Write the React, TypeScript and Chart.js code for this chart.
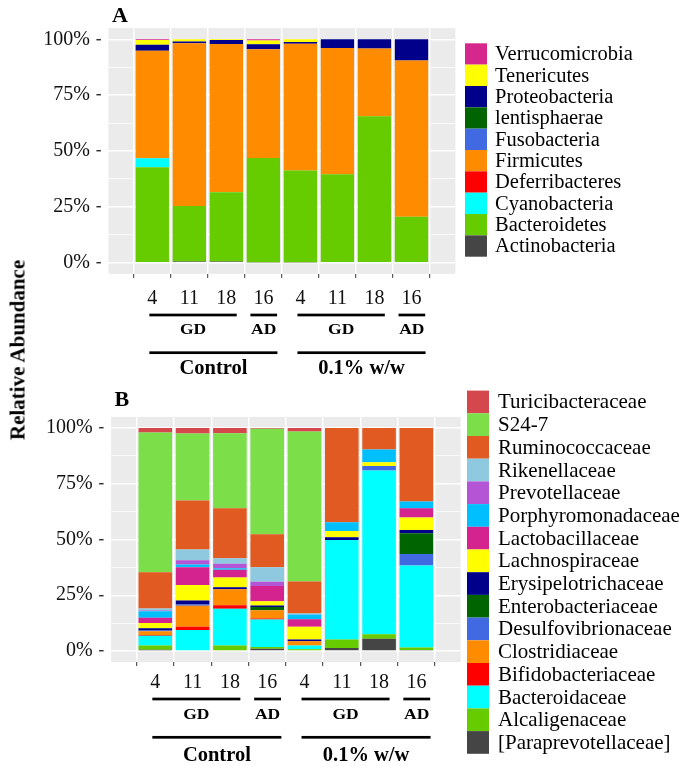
import React, { useEffect, useRef } from 'react';
import { Chart, registerables } from 'chart.js';

Chart.register(...registerables);

const SERIF = "'Liberation Serif', 'Times New Roman', serif";

// ---------- shared categories ----------
const timepoints = ['4', '11', '18', '16', '4', '11', '18', '16'];
const subgroups = [
  { label: 'GD', from: 0, to: 2 },
  { label: 'AD', from: 3, to: 3 },
  { label: 'GD', from: 4, to: 6 },
  { label: 'AD', from: 7, to: 7 },
];
const treatments = [
  { label: 'Control', from: 0, to: 3 },
  { label: '0.1% w/w', from: 4, to: 7 },
];
const yTickValues = [0, 12.5, 25, 37.5, 50, 62.5, 75, 87.5, 100];
const yAxisTitle = 'Relative Abundance';

// ---------- panel A: phyla (stack order bottom -> top) ----------
const phylaNames = ['Actinobacteria', 'Bacteroidetes', 'Cyanobacteria', 'Deferribacteres', 'Firmicutes', 'Fusobacteria', 'lentisphaerae', 'Proteobacteria', 'Tenericutes', 'Verrucomicrobia'];
const phylaColors = ['#454545', '#66CC00', '#00FFFF', '#FF0000', '#FF8C00', '#4169E1', '#006400', '#00008B', '#FFFF00', '#D6278C'];
const actinobacteria = [0.3, 0.5, 0.5, 0.2, 0.2, 0, 0, 0];
const bacteroidetes = [42.4, 24.9, 31.0, 46.7, 41.1, 39.6, 65.5, 20.6];
const cyanobacteria = [4.0, 0, 0.2, 0, 0, 0, 0, 0];
const deferribacteres = [0, 0, 0, 0, 0, 0, 0, 0];
const firmicutes = [48.2, 72.8, 66.2, 48.6, 56.7, 56.5, 30.4, 69.9];
const fusobacteria = [0, 0, 0, 0, 0, 0, 0, 0];
const lentisphaerae = [0, 0, 0, 0, 0, 0, 0, 0];
const proteobacteria = [2.6, 0.8, 1.8, 2.3, 0.8, 3.9, 4.1, 9.5];
const tenericutes = [2.2, 1.0, 0.3, 1.7, 1.2, 0, 0, 0];
const verrucomicrobia = [0.3, 0, 0, 0.5, 0, 0, 0, 0];
const phylaSeries = [actinobacteria, bacteroidetes, cyanobacteria, deferribacteres, firmicutes, fusobacteria, lentisphaerae, proteobacteria, tenericutes, verrucomicrobia];

// ---------- panel B: families (stack order bottom -> top) ----------
const familyNames = ['[Paraprevotellaceae]', 'Alcaligenaceae', 'Bacteroidaceae', 'Bifidobacteriaceae', 'Clostridiaceae', 'Desulfovibrionaceae', 'Enterobacteriaceae', 'Erysipelotrichaceae', 'Lachnospiraceae', 'Lactobacillaceae', 'Porphyromonadaceae', 'Prevotellaceae', 'Rikenellaceae', 'Ruminococcaceae', 'S24-7', 'Turicibacteraceae'];
const familyColors = ['#454545', '#66CC00', '#00FFFF', '#FF0000', '#FF8C00', '#4169E1', '#006400', '#00008B', '#FFFF00', '#D4228F', '#00BFFF', '#B455D6', '#8EC9E0', '#E05A22', '#7CDF4A', '#D4474D'];
const paraprevotellaceae = [0.5, 0, 0, 1.0, 0, 1.3, 5.5, 0.4];
const alcaligenaceae = [1.9, 0.3, 2.4, 0.8, 0.8, 3.8, 2.0, 1.1];
const bacteroidaceae = [4.4, 9.1, 16.5, 12.3, 1.6, 44.7, 73.4, 36.8];
const bifidobacteriaceae = [0.4, 1.5, 1.6, 0.5, 0, 0, 0, 0];
const clostridiaceae = [1.6, 9.4, 7.2, 3.7, 1.9, 0, 0, 0];
const desulfovibrionaceae = [0.4, 0.5, 0, 0, 0, 0, 2.1, 5.2];
const enterobacteriaceae = [0, 0, 0, 1.4, 0, 0, 0, 9.3];
const erysipelotrichaceae = [1.0, 1.8, 0.9, 0.7, 0.8, 1.2, 0, 1.5];
const lachnospiraceae = [2.3, 7.0, 4.3, 1.9, 5.8, 2.8, 1.6, 5.6];
const lactobacillaceae = [2.4, 7.9, 3.5, 6.8, 3.3, 0, 0, 4.1];
const porphyromonadaceae = [2.9, 1.3, 0.7, 0, 2.2, 3.9, 5.8, 3.0];
const prevotellaceae = [0.3, 1.9, 2.0, 1.9, 0, 0, 0, 0];
const rikenellaceae = [1.0, 4.8, 2.5, 6.6, 0.4, 0, 0, 0];
const ruminococcaceae = [16.2, 22.0, 22.4, 14.7, 14.4, 42.3, 9.6, 33.0];
const s247 = [62.7, 30.0, 33.7, 47.4, 67.2, 0, 0, 0];
const turicibacteraceae = [2.0, 2.5, 2.3, 0.3, 1.6, 0, 0, 0];
const familySeries = [paraprevotellaceae, alcaligenaceae, bacteroidaceae, bifidobacteriaceae, clostridiaceae, desulfovibrionaceae, enterobacteriaceae, erysipelotrichaceae, lachnospiraceae, lactobacillaceae, porphyromonadaceae, prevotellaceae, rikenellaceae, ruminococcaceae, s247, turicibacteraceae];

// ---------- layout (positions, not data) ----------
const W = 685;
const H = 383;
const layoutA = {
  tag: 'A', names: phylaNames, colors: phylaColors, series: phylaSeries,
  left: 108.4, right: 455.4, top: 28.1, bottom: 273.9,
  tickPad: 9.3,
  tagX: 112, tagY: 21.5,
  legTop: 43.3, legRow: 21.34, legBoxX: 465, legBoxW: 22, legTextX: 495, legFont: 20.5,
  line1Y: 315, subY: 330.7, line2Y: 352.7, treatY: 368.5,
};
const layoutB = {
  tag: 'B', names: familyNames, colors: familyColors, series: familySeries,
  left: 111.1, right: 460.6, top: 33.9, bottom: 279.1,
  tickPad: 4.2,
  tagX: 114.5, tagY: 23,
  legTop: 7.6, legRow: 22.7, legBoxX: 467, legBoxW: 22, legTextX: 498, legFont: 21,
  line1Y: 316, subY: 332, line2Y: 354.3, treatY: 373,
};
const subPad: Record<string, number[]> = { GD: [-0.08, 0.28], AD: [-0.35, 0.37] };
const treatPad = [-0.08, 0.38];

function decorPlugin(p: any) {
  return {
    id: 'decor' + p.tag,
    beforeDraw(chart: any) {
      const { ctx, chartArea: a } = chart;
      ctx.save();
      ctx.fillStyle = '#EBEBEB';
      ctx.fillRect(a.left, a.top, a.right - a.left, a.bottom - a.top);
      ctx.restore();
    },
    afterDraw(chart: any) {
      const ctx = chart.ctx;
      const xs = chart.scales.x;
      const unit = xs.getPixelForValue(1) - xs.getPixelForValue(0);
      ctx.save();
      ctx.fillStyle = '#000';
      // panel tag
      ctx.font = `bold 22px ${SERIF}`;
      ctx.textAlign = 'left';
      ctx.textBaseline = 'alphabetic';
      ctx.fillText(p.tag, p.tagX, p.tagY);
      // legend (reverse order, top = last series)
      const n = p.names.length;
      for (let row = 0; row < n; row++) {
        const k = n - 1 - row;
        const y = p.legTop + row * p.legRow;
        ctx.fillStyle = p.colors[k];
        ctx.fillRect(p.legBoxX, y, p.legBoxW, p.legRow);
        ctx.fillStyle = '#000';
        ctx.font = `${p.legFont}px ${SERIF}`;
        ctx.textBaseline = 'middle';
        ctx.textAlign = 'left';
        ctx.fillText(p.names[k], p.legTextX, y + p.legRow / 2 + 1);
      }
      // subgroup lines + labels
      subgroups.forEach((g) => {
        const pad = subPad[g.label];
        const x1 = xs.getPixelForValue(g.from) + pad[0] * unit;
        const x2 = xs.getPixelForValue(g.to) + pad[1] * unit;
        ctx.fillStyle = '#000';
        ctx.fillRect(x1, p.line1Y - 1.35, x2 - x1, 2.7);
        ctx.save();
        ctx.translate((x1 + x2) / 2, p.subY);
        ctx.scale(1.25, 1);
        ctx.font = `bold 14px ${SERIF}`;
        ctx.textAlign = 'center';
        ctx.textBaseline = 'middle';
        ctx.fillText(g.label, 0, 0);
        ctx.restore();
      });
      treatments.forEach((t) => {
        const x1 = xs.getPixelForValue(t.from) + treatPad[0] * unit;
        const x2 = xs.getPixelForValue(t.to) + treatPad[1] * unit;
        ctx.fillStyle = '#000';
        ctx.fillRect(x1, p.line2Y - 1.35, x2 - x1, 2.7);
        ctx.font = `bold 20.5px ${SERIF}`;
        ctx.textAlign = 'center';
        ctx.textBaseline = 'middle';
        ctx.fillText(t.label, (x1 + x2) / 2, p.treatY);
      });
      ctx.restore();
    },
  };
}

function buildConfig(p: any): any {
  return {
    type: 'bar',
    data: {
      datasets: p.series.map((vals: number[], k: number) => ({
        label: p.names[k],
        data: vals.map((v, i) => ({ x: i, y: v })),
        backgroundColor: p.colors[k],
        borderWidth: 0,
        stack: 'all',
        barPercentage: 0.9,
        categoryPercentage: 1.0,
      })),
    },
    options: {
      responsive: false,
      animation: false,
      events: [],
      layout: { padding: { left: 0, top: p.top, right: W - p.right, bottom: 0 } },
      plugins: { legend: { display: false }, tooltip: { enabled: false } },
      scales: {
        x: {
          type: 'linear',
          stacked: true,
          min: -0.6,
          max: timepoints.length - 1 + 0.6,
          afterBuildTicks: (s: any) => { s.ticks = timepoints.map((_, i) => ({ value: i })); },
          afterFit: (s: any) => { s.height = H - p.bottom; },
          border: { display: false },
          grid: { color: '#FFFFFF', lineWidth: 1.4, tickColor: '#333333', tickLength: 4, tickWidth: 1 },
          ticks: {
            autoSkip: false, maxRotation: 0, minRotation: 0,
            padding: p.tickPad,
            color: '#111111',
            font: { family: SERIF, size: 20 },
            callback: (v: number) => timepoints[v] ?? '',
          },
        },
        y: {
          type: 'linear',
          stacked: true,
          min: -5,
          max: 105,
          afterBuildTicks: (s: any) => { s.ticks = yTickValues.map((v) => ({ value: v })); },
          afterFit: (s: any) => { s.width = p.left; },
          border: { display: false },
          grid: {
            color: '#FFFFFF',
            lineWidth: (c: any) => (c.tick && c.tick.value % 25 === 0 ? 1.4 : 0.7),
            tickColor: (c: any) => (c.tick && c.tick.value % 25 === 0 ? '#333333' : 'rgba(0,0,0,0)'),
            tickLength: 12,
            tickWidth: 1.5,
            tickBorderDash: [4.5, 40],
          },
          ticks: {
            autoSkip: false,
            padding: 6.4,
            color: '#111111',
            font: { family: SERIF, size: 20 },
            callback: (v: number) => (v % 25 === 0 ? v + '%' : ''),
          },
        },
      },
    },
    plugins: [decorPlugin(p)],
  };
}

function Panel({ p, top }: { p: any; top: number }) {
  const ref = useRef<HTMLCanvasElement | null>(null);
  useEffect(() => {
    if (!ref.current) return;
    const chart = new Chart(ref.current, buildConfig(p));
    return () => chart.destroy();
  }, [p]);
  return (
    <canvas
      ref={ref}
      width={W}
      height={H}
      style={{ position: 'absolute', left: 0, top, width: W, height: H, display: 'block' }}
    />
  );
}

export default function App() {
  return (
    <div style={{ position: 'absolute', left: 0, top: 0, width: W, height: 766, background: '#FFFFFF', overflow: 'hidden' }}>
      <Panel p={layoutA} top={0} />
      <Panel p={layoutB} top={383} />
      <div
        style={{
          position: 'absolute', left: 17.5, top: 350,
          transform: 'translate(-50%, -50%) rotate(-90deg)',
          font: `bold 21px ${SERIF}`, whiteSpace: 'nowrap', color: '#000', lineHeight: 1,
        }}
      >
        {yAxisTitle}
      </div>
    </div>
  );
}
